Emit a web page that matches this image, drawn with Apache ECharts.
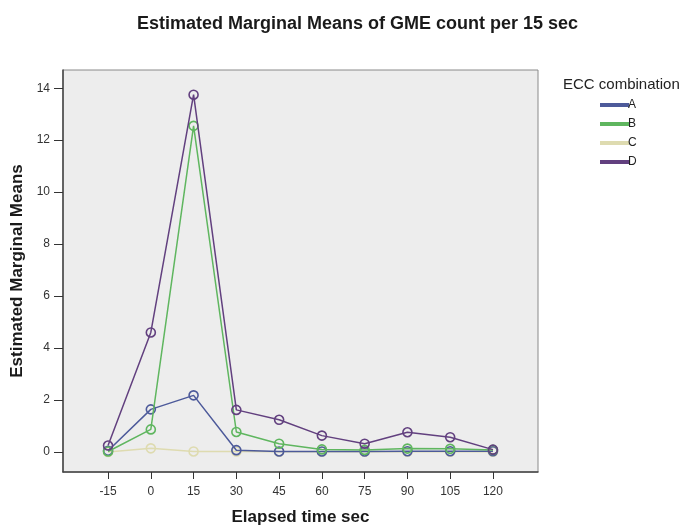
<!DOCTYPE html>
<html>
<head>
<meta charset="utf-8">
<script src="https://cdn.jsdelivr.net/npm/echarts@6/dist/echarts.min.js"></script>
<style>
  html, body { margin: 0; padding: 0; background: #fff; }
  #chart { width: 682px; height: 527px; }
</style>
</head>
<body>
<div id="chart"></div>
<script>
const times = [-15, 0, 15, 30, 45, 60, 75, 90, 105, 120];
const yTicks = [0, 2, 4, 6, 8, 10, 12, 14];
const groups = ['A', 'B', 'C', 'D'];
const meansA = [0.05, 1.64, 2.18, 0.07, 0.02, 0.02, 0.02, 0.03, 0.03, 0.03];
const meansB = [0.02, 0.87, 12.55, 0.77, 0.32, 0.10, 0.08, 0.13, 0.12, 0.08];
const meansC = [0.00, 0.14, 0.02, 0.02, 0.01, 0.01, 0.01, 0.01, 0.01, 0.01];
const meansD = [0.25, 4.60, 13.75, 1.62, 1.24, 0.63, 0.32, 0.76, 0.57, 0.09];
const colors = ['#4d5a9a', '#5fb65f', '#dedbb0', '#62407f'];

const chart = echarts.init(document.getElementById('chart'));
const allMeans = [meansA, meansB, meansC, meansD];
const font = 'Liberation Sans, Arial, sans-serif';

chart.setOption({
    animation: false,
    textStyle: { fontFamily: font },
    title: {
        text: 'Estimated Marginal Means of GME count per 15 sec',
        left: 132,
        top: 10,
        textStyle: { fontSize: 18, fontWeight: 'bold', color: '#1a1a1a' }
    },
    graphic: [{
        type: 'text',
        left: 563,
        top: 77,
        style: { text: 'ECC combination', fontSize: 15, fill: '#222', fontFamily: font }
    }],
    legend: {
        orient: 'vertical',
        left: 595,
        top: 93,
        itemWidth: 27,
        itemHeight: 2,
        itemGap: 5,
        icon: 'rect',
        textStyle: { fontSize: 12, color: '#222', padding: [0, 0, 0, -5], lineHeight: 14 },
        data: groups
    },
    grid: {
        left: 63, right: 144, top: 70, bottom: 55,
        outerBoundsMode: 'none',
        containLabel: false,
        show: true,
        backgroundColor: '#ededed',
        borderColor: '#8a8a8a',
        borderWidth: 1
    },
    xAxis: {
        type: 'value',
        min: -30.8,
        max: 135.8,
        name: 'Elapsed time sec',
        nameLocation: 'middle',
        nameGap: 37,
        nameTextStyle: { fontSize: 17, fontWeight: 'bold', color: '#1a1a1a' },
        axisLine: { onZero: false, lineStyle: { color: '#444', width: 1.5 } },
        axisTick: { customValues: times, length: 7, lineStyle: { color: '#333' } },
        axisLabel: { customValues: times, fontSize: 12, color: '#333', margin: 14 },
        splitLine: { show: false }
    },
    yAxis: {
        type: 'value',
        min: -0.77,
        max: 14.7,
        name: 'Estimated Marginal Means',
        nameLocation: 'middle',
        nameGap: 32,
        nameTextStyle: { fontSize: 17, fontWeight: 'bold', color: '#1a1a1a' },
        axisLine: { show: true, onZero: false, lineStyle: { color: '#444', width: 1.5 } },
        axisTick: { show: true, customValues: yTicks, length: 9, lineStyle: { color: '#333' } },
        axisLabel: { customValues: yTicks, fontSize: 12, color: '#333', margin: 13 },
        splitLine: { show: false }
    },
    series: groups.map((g, i) => ({
        name: g,
        type: 'line',
        data: times.map((t, j) => [t, allMeans[i][j]]),
        symbol: 'circle',
        symbolSize: 9,
        lineStyle: { color: colors[i], width: 1.5 },
        itemStyle: { color: 'rgba(0,0,0,0)', borderColor: colors[i], borderWidth: 1.6 },
        z: i === 2 ? 1 : 2 + i
    }))
});
</script>
</body>
</html>
